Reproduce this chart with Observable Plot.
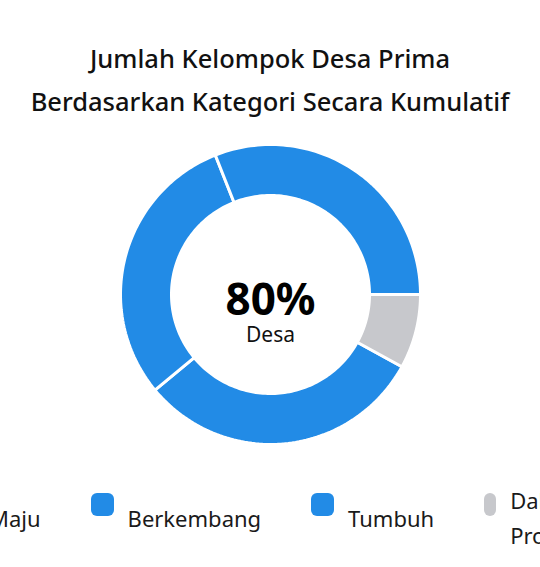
<!DOCTYPE html>
<html>
<head>
<meta charset="utf-8">
<script src="https://cdn.jsdelivr.net/npm/d3@7"></script>
<script src="https://cdn.jsdelivr.net/npm/@observablehq/plot@0.6"></script>
<style>
  html, body { margin: 0; padding: 0; background: #fff; }
  body { width: 540px; height: 567px; position: relative; overflow: hidden; font-family: "Noto Sans", sans-serif; color: #000; }
  #title { position: absolute; top: 0; left: 0; width: 540px; padding-top: 37px; text-align: center; font-size: 25.5px; line-height: 43px; font-weight: 500; color: #111; }
  #chart { position: absolute; top: 130px; left: 0; width: 540px; }
  #legend { position: absolute; top: 482px; left: 0; width: 540px; height: 72px; overflow: hidden; }
  #legend .row { position: absolute; top: 0; height: 72px; display: flex; gap: 50px; white-space: nowrap; }
  #legend .item { display: flex; align-items: center; height: 72px; }
  #legend .sw { align-self: flex-start; margin-top: 11px; width: 23px; height: 23px; border-radius: 6px; flex: none; }
  #legend .lab { margin-left: 14px; font-size: 22px; line-height: 35px; color: #1a1a1a; }
</style>
</head>
<body>
<div id="title">Jumlah Kelompok Desa Prima<br>Berdasarkan Kategori Secara Kumulatif</div>
<div id="chart"></div>
<div id="legend"></div>
<script>
const categories = ["Maju", "Berkembang", "Tumbuh", "Dalam Proses"];
const values = [31, 30, 31, 8];
const colors = ["#228be6", "#228be6", "#228be6", "#c7c8cc"];
const centerValue = "80%";
const centerLabel = "Desa";

const startAngle = 118.8 * Math.PI / 180;
const inner = 0.66;
const pie = d3.pie().sort(null).startAngle(startAngle).endAngle(startAngle + 2 * Math.PI);
const arcs = pie(values);
const pts = [];
arcs.forEach((a, i) => {
  const n = 80;
  for (let k = 0; k <= n; k++) {
    const t = a.startAngle + (a.endAngle - a.startAngle) * k / n;
    pts.push({cat: categories[i], color: colors[i], x: Math.sin(t), y: Math.cos(t)});
  }
  for (let k = n; k >= 0; k--) {
    const t = a.startAngle + (a.endAngle - a.startAngle) * k / n;
    pts.push({cat: categories[i], color: colors[i], x: inner * Math.sin(t), y: inner * Math.cos(t)});
  }
});

const W = 540, H = 330, R = 150, cy = 164;
const plot = Plot.plot({
  width: W, height: H, margin: 0,
  x: {domain: [-W / 2 / R, W / 2 / R], axis: null},
  y: {domain: [-(H - cy) / R, cy / R], axis: null},
  color: {type: "identity"},
  style: {fontFamily: "Noto Sans, sans-serif", background: "transparent"},
  marks: [
    Plot.line(pts, {x: "x", y: "y", z: "cat", fill: "color", stroke: "white", strokeWidth: 3, strokeLinejoin: "round", curve: "linear-closed"}),
    Plot.text([centerValue], {x: () => 0, y: () => 0, text: d => d, dy: 6, fontSize: 44, fontWeight: "bold", fill: "#000"}),
    Plot.text([centerLabel], {x: () => 0, y: () => 0, text: d => d, dy: 41, fontSize: 21, fill: "#111"})
  ]
});
document.getElementById("chart").appendChild(plot);

const legend = document.getElementById("legend");
const row = document.createElement("div");
row.className = "row";
categories.forEach((c, i) => {
  const it = document.createElement("div");
  it.className = "item";
  const sw = document.createElement("div");
  sw.className = "sw";
  sw.style.background = colors[i];
  const lab = document.createElement("div");
  lab.className = "lab";
  lab.textContent = c;
  if (i === categories.length - 1) { lab.style.whiteSpace = "normal"; lab.style.width = "80px"; sw.style.width = "12px"; }
  it.appendChild(sw); it.appendChild(lab);
  row.appendChild(it);
});
legend.appendChild(row);
// align so "Berkembang" swatch sits at x = 91
const swatches = row.querySelectorAll(".sw");
row.style.left = (91 - swatches[1].offsetLeft) + "px";
</script>
</body>
</html>
